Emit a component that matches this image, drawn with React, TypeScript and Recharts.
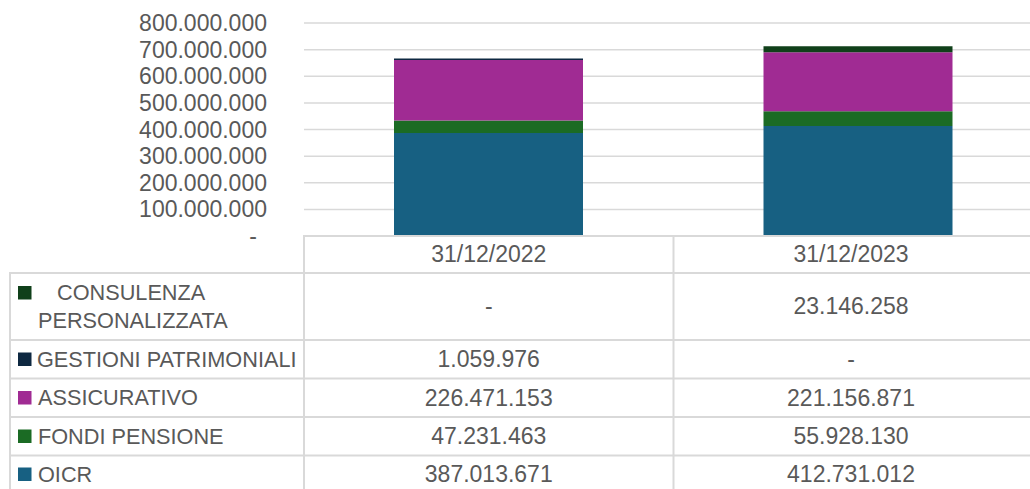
import React from "react";
import { BarChart, Bar, XAxis, YAxis, CartesianGrid } from "recharts";

const categories = ["31/12/2022", "31/12/2023"];
const oicr = [387013671, 412731012];
const fondiPensione = [47231463, 55928130];
const assicurativo = [226471153, 221156871];
const gestioniPatrimoniali: (number | null)[] = [1059976, null];
const consulenza: (number | null)[] = [null, 23146258];
const yTicks = [0, 100000000, 200000000, 300000000, 400000000, 500000000, 600000000, 700000000, 800000000];

const COLORS = {
  oicr: "#176082",
  fondi: "#1B6B24",
  assic: "#A02B93",
  gest: "#0E2841",
  cons: "#10401A",
};
const TEXT = "#595959";
const LINE = "#D9D9D9";
const FONT = "'Liberation Sans', Arial, sans-serif";
const LABEL_SIZE = 21.7;

const data = categories.map((c, i) => ({
  category: c,
  oicr: oicr[i],
  fondi: fondiPensione[i],
  assic: assicurativo[i],
  gest: gestioniPatrimoniali[i],
  cons: consulenza[i],
}));

const fmt = (v: number | null) =>
  v === null || v === 0 ? "-" : Math.round(v).toString().replace(/\B(?=(\d{3})+(?!\d))/g, ".");

// table rows (top → bottom), centre offsets below axis line
const tableRows = [
  { key: "cons", values: consulenza, dy: 70 },
  { key: "gest", values: gestioniPatrimoniali, dy: 123 },
  { key: "assic", values: assicurativo, dy: 161.5 },
  { key: "fondi", values: fondiPensione, dy: 200 },
  { key: "oicr", values: oicr, dy: 238 },
];

const YTick = (props: any) => {
  const { x, y, payload } = props;
  const isZero = payload.value === 0;
  return (
    <text
      x={isZero ? x - 10 : x}
      y={y}
      textAnchor="end"
      dominantBaseline="central"
      fill={TEXT}
      fontSize={23}
      fontFamily={FONT}
    >
      {fmt(payload.value)}
    </text>
  );
};

const XTick = (props: any) => {
  const { x, y, payload, index } = props;
  const cx = index === 1 ? 851 : x;
  return (
    <g>
      <text x={cx} y={y + 18} textAnchor="middle" dominantBaseline="central" fill={TEXT} fontSize={23} fontFamily={FONT}>
        {payload.value}
      </text>
      {tableRows.map((r) => (
        <text
          key={r.key}
          x={cx}
          y={y + r.dy}
          textAnchor="middle"
          dominantBaseline="central"
          fill={TEXT}
          fontSize={23}
          fontFamily={FONT}
        >
          {fmt(r.values[index])}
        </text>
      ))}
    </g>
  );
};

const hLines = [273, 340, 378.5, 417, 455.5];

export default function App() {
  return (
    <div style={{ position: "absolute", left: 0, top: 0, width: 1030, height: 489, overflow: "hidden", background: "#fff" }}>
      <BarChart
        width={1043}
        height={489}
        data={data}
        margin={{ top: 23, right: 0, bottom: 0, left: 0 }}
        barSize={189}
      >
        <CartesianGrid vertical={false} stroke={LINE} strokeWidth={1.5} />
        <XAxis
          dataKey="category"
          axisLine={false}
          tickLine={false}
          height={253}
          tickSize={0}
          tickMargin={0}
          interval={0}
          tick={<XTick />}
        />
        <YAxis
          width={304}
          domain={[0, 800000000]}
          ticks={yTicks}
          axisLine={false}
          tickLine={false}
          tickSize={0}
          tickMargin={37}
          interval={0}
          tick={<YTick />}
        />
        <Bar dataKey="oicr" stackId="a" fill={COLORS.oicr} isAnimationActive={false} />
        <Bar dataKey="fondi" stackId="a" fill={COLORS.fondi} isAnimationActive={false} />
        <Bar dataKey="assic" stackId="a" fill={COLORS.assic} isAnimationActive={false} />
        <Bar
          dataKey="gest"
          stackId="a"
          fill={COLORS.gest}
          isAnimationActive={false}
          minPointSize={(_v: any, i: number) => (gestioniPatrimoniali[i] ? 1.5 : 0)}
        />
        <Bar dataKey="cons" stackId="a" fill={COLORS.cons} isAnimationActive={false} />
      </BarChart>
      <svg
        width={1030}
        height={489}
        style={{ position: "absolute", left: 0, top: 0, pointerEvents: "none" }}
      >
        <line x1={304} x2={1030} y1={236} y2={236} stroke={LINE} strokeWidth={2} />
        {hLines.map((y) => (
          <line key={y} x1={10} x2={1030} y1={y} y2={y} stroke={LINE} strokeWidth={2} />
        ))}
        <line x1={10} x2={10} y1={272} y2={489} stroke={LINE} strokeWidth={2} />
        <line x1={304} x2={304} y1={235} y2={489} stroke={LINE} strokeWidth={2} />
        <line x1={673.5} x2={673.5} y1={235} y2={489} stroke={LINE} strokeWidth={2} />

        <rect x={18} y={286} width={13.5} height={13.5} fill={COLORS.cons} />
        <text x={57} y={292.5} dominantBaseline="central" fill={TEXT} fontSize={LABEL_SIZE} fontFamily={FONT}>CONSULENZA</text>
        <text x={38} y={320} dominantBaseline="central" fill={TEXT} fontSize={LABEL_SIZE} fontFamily={FONT}>PERSONALIZZATA</text>

        <rect x={18} y={352.5} width={13.5} height={13.5} fill={COLORS.gest} />
        <text x={37} y={359} dominantBaseline="central" fill={TEXT} fontSize={LABEL_SIZE} fontFamily={FONT}>GESTIONI PATRIMONIALI</text>

        <rect x={18} y={391} width={13.5} height={13.5} fill={COLORS.assic} />
        <text x={38} y={397.5} dominantBaseline="central" fill={TEXT} fontSize={LABEL_SIZE} fontFamily={FONT}>ASSICURATIVO</text>

        <rect x={18} y={429.5} width={13.5} height={13.5} fill={COLORS.fondi} />
        <text x={38} y={436} dominantBaseline="central" fill={TEXT} fontSize={LABEL_SIZE} fontFamily={FONT}>FONDI PENSIONE</text>

        <rect x={18} y={467.5} width={13.5} height={13.5} fill={COLORS.oicr} />
        <text x={38} y={474} dominantBaseline="central" fill={TEXT} fontSize={LABEL_SIZE} fontFamily={FONT}>OICR</text>
      </svg>
    </div>
  );
}
